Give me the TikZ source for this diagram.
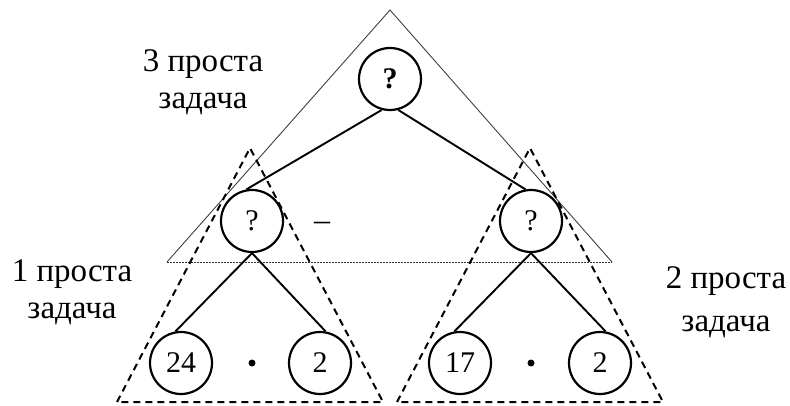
\documentclass[tikz,border=0pt]{standalone}
\usepackage{fontspec}
\setmainfont{Liberation Serif}
\usetikzlibrary{positioning}

\begin{document}
\begin{tikzpicture}[
  x=1pt,
  y=1pt,
  node distance=142pt,
  on grid,
  vertex/.style={
    circle,
    draw=black,
    line width=2.2pt,
    minimum size=62pt,
    inner sep=0pt,
    font=\fontsize{30}{32}\selectfont
  },
  sign/.style={
    inner sep=0pt,
    font=\fontsize{32}{34}\selectfont
  },
  mulsign/.style={
    circle,
    fill=black,
    inner sep=0pt,
    minimum size=7pt
  },
  tasktext/.style={
    align=center,
    font=\fontsize{33}{37}\selectfont
  },
  edge/.style={
    line width=1.9pt,
    draw=black
  },
  outline/.style={
    line width=0.9pt,
    draw=black!75
  },
  dotbase/.style={
    line width=1pt,
    draw=black!80,
    dash pattern=on 1.5pt off 1.5pt
  },
  subtree/.style={
    line width=2pt,
    draw=black,
    dash pattern=on 7pt off 5pt
  }
]
\useasboundingbox (0,0) rectangle (790,405);

% Tree nodes
\node[vertex] (top) at (390,326) {\bfseries ?};
\node[vertex, below left=142pt and 138pt of top] (midL) {?};
\node[vertex, below right=142pt and 141pt of top] (midR) {?};

% Leaves
\node[vertex, below left=142pt and 71pt of midL] (leafA) {24};
\node[vertex, below right=142pt and 68pt of midL] (leafB) {2};
\node[vertex, below left=142pt and 71pt of midR] (leafC) {17};
\node[vertex, below right=142pt and 69pt of midR] (leafD) {2};

% Operation signs
\node[mulsign, below=of midL] (mulL) {};
\node[mulsign, below=of midR] (mulR) {};
\node[sign, right=70pt of midL, yshift=-5pt] (minus) {–};

% Task labels
\node[tasktext] (task3) at (203,323) {3 проста\\задача};
\node[tasktext] (task1) at (72,113) {1 проста\\задача};
\node[tasktext, font=\fontsize{33}{43}\selectfont] (task2) at (726,103) {2 проста\\задача};

% Triangle corners
\coordinate (bigTop) at (390,395);
\coordinate (bigLeft) at (167,143);
\coordinate (bigRight) at (612,143);
\coordinate (subLTop) at (250,257);
\coordinate (subLLeft) at (117,3);
\coordinate (subLRight) at (383,3);
\coordinate (subRTop) at (530,257);
\coordinate (subRLeft) at (397,3);
\coordinate (subRRight) at (663,3);

% Big triangle
\draw[outline] (bigLeft) -- (bigTop) -- (bigRight);
\draw[dotbase] (bigLeft) -- (bigRight);

% Dashed triangles
\draw[subtree] (subLLeft) -- (subLTop) -- (subLRight) -- cycle;
\draw[subtree] (subRLeft) -- (subRTop) -- (subRRight) -- cycle;

% Edges
\draw[edge] (top.255) -- (midL.100);
\draw[edge] (top.285) -- (midR.100);
\draw[edge] (midL.south) -- (leafA.100);
\draw[edge] (midL.south) -- (leafB.80);
\draw[edge] (midR.south) -- (leafC.100);
\draw[edge] (midR.south) -- (leafD.80);

\end{tikzpicture}
\end{document}
